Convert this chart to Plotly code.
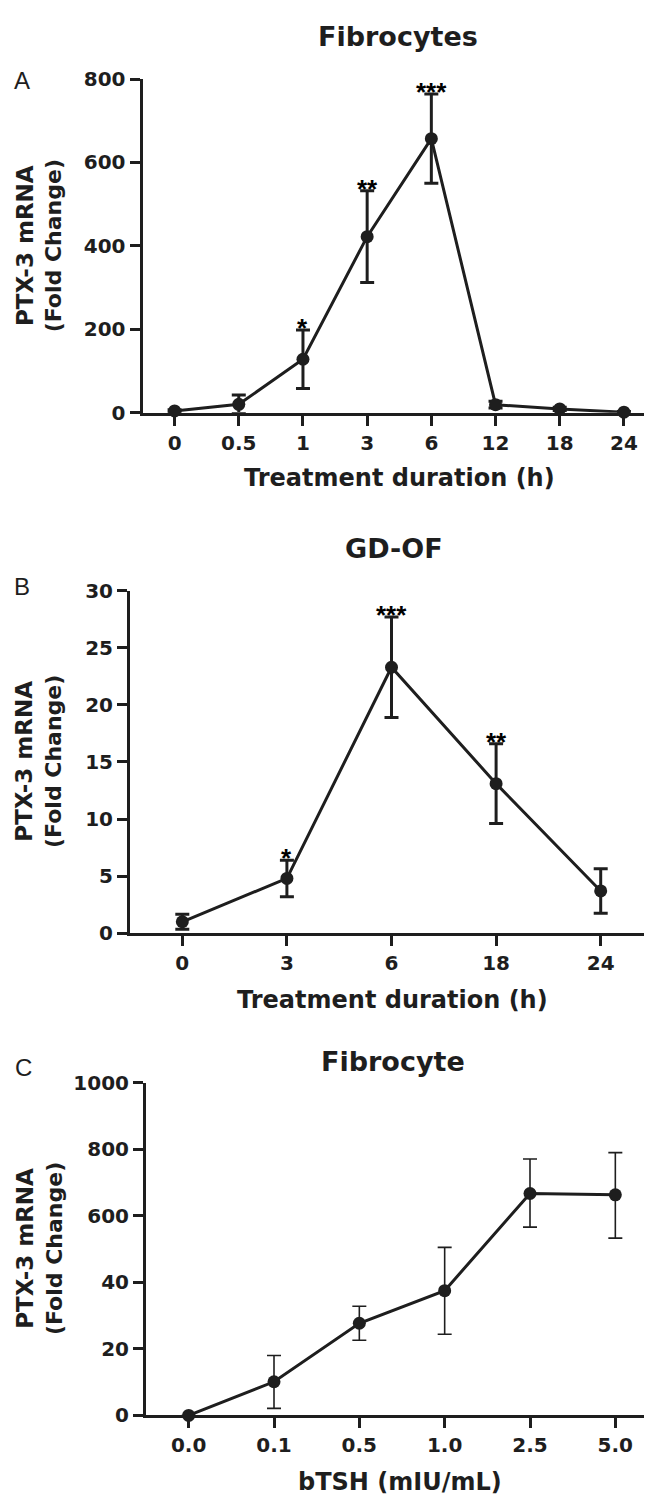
import numpy as np
import plotly.graph_objects as go

W, H = 652, 1504

# ---------------- data ----------------
# Panel A: Fibrocytes, time course
a_labels = ["0", "0.5", "1", "3", "6", "12", "18", "24"]
a_mean = [4, 20, 128, 422, 657, 19, 9, 1]
a_err = [3, 22, 70, 110, 107, 8, 4, 2]
a_stars = {2: "*", 3: "**", 4: "***"}

# Panel B: GD-OF, time course
b_labels = ["0", "3", "6", "18", "24"]
b_mean = [1.0, 4.8, 23.3, 13.1, 3.7]
b_err = [0.65, 1.6, 4.4, 3.5, 1.95]
b_stars = {1: "*", 2: "***", 3: "**"}

# Panel C: Fibrocyte, bTSH dose (discontinuous y axis)
c_labels = ["0.0", "0.1", "0.5", "1.0", "2.5", "5.0"]
c_mean = [0, 10.1, 27.7, 37.5, 667, 663]
c_upper = [0, 18, 32.8, 334, 771, 790]
c_lower = [0, 2.1, 22.6, 24.4, 505, 412]
c_ticks = [0, 20, 40, 600, 800, 1000]

# piecewise axis used by panel C: 0-40 stretched, 40-600 compressed
c_break_real = [0, 40, 600, 1000]
c_break_axis = [0, 400, 600, 1000]


def c_axis(v):
    return np.interp(np.asarray(v, dtype=float), c_break_real, c_break_axis)


INK = "#1e1e1e"
FONT = "DejaVu Sans"


def px_x(x):
    return x / W


def px_y(y):
    return 1 - y / H


fig = go.Figure()

# ------------- panel domains (pixel boxes) -------------
panels = {
    "A": dict(x0=134.5, x1=648, y0=60, y1=399),
    "B": dict(x0=122, x1=645, y0=580, y1=928),
    "C": dict(x0=138, x1=650, y0=1080, y1=1418),
}

axis_common = dict(
    showline=True, linecolor=INK, linewidth=3, showgrid=False, zeroline=False,
    ticks="outside", ticklen=10, tickwidth=3, tickcolor=INK,
    tickfont=dict(family=FONT, size=20, color=INK, weight="bold"),
)

layout_axes = {}
for i, (key, p) in enumerate(panels.items(), start=1):
    sfx = "" if i == 1 else str(i)
    layout_axes["xaxis" + sfx] = dict(
        axis_common, domain=[px_x(p["x0"]), px_x(p["x1"])],
        anchor="y" + sfx, fixedrange=True)
    layout_axes["yaxis" + sfx] = dict(
        axis_common, domain=[px_y(p["y1"]), px_y(p["y0"])],
        anchor="x" + sfx, fixedrange=True)

# Panel A axes
layout_axes["xaxis"].update(range=[-0.5, 7.5], tickvals=list(range(len(a_labels))),
                            ticktext=a_labels)
layout_axes["yaxis"].update(range=[0, 800], tickvals=[0, 200, 400, 600, 800])
# Panel B axes
layout_axes["xaxis2"].update(range=[-0.5, 4.5], tickvals=list(range(len(b_labels))),
                             ticktext=b_labels)
layout_axes["yaxis2"].update(range=[0, 30], tickvals=[0, 5, 10, 15, 20, 25, 30])
# Panel C axes
layout_axes["xaxis3"].update(range=[-0.5, 5.5], tickvals=list(range(len(c_labels))),
                             ticktext=c_labels)
layout_axes["yaxis3"].update(range=[0, 1000], tickvals=list(c_axis(c_ticks)),
                             ticktext=[str(t) for t in c_ticks])

# ------------- traces -------------
def add_series(xs, ys, eplus, eminus, xa, ya, ethick):
    fig.add_trace(go.Scatter(
        x=xs, y=ys, mode="lines+markers", xaxis=xa, yaxis=ya,
        line=dict(color=INK, width=3),
        marker=dict(color=INK, size=13),
        error_y=dict(type="data", symmetric=False, array=eplus, arrayminus=eminus,
                     color=INK, thickness=ethick, width=7),
        cliponaxis=False, showlegend=False, hoverinfo="skip"))


add_series(list(range(len(a_labels))), a_mean, a_err, a_err, "x", "y", 3)
add_series(list(range(len(b_labels))), b_mean, b_err, b_err, "x2", "y2", 3)
c_y = c_axis(c_mean)
add_series(list(range(len(c_labels))), list(c_y),
           list(c_axis(c_upper) - c_y), list(c_y - c_axis(c_lower)), "x3", "y3", 1.6)

annotations = []

# significance stars
star_font = dict(family="Liberation Sans", size=26, color="#000000", weight="bold")
for idx, s in a_stars.items():
    annotations.append(dict(x=idx, y=a_mean[idx] + a_err[idx], xref="x", yref="y",
                            text=s, showarrow=False, yanchor="bottom", yshift=-15,
                            font=star_font))
for idx, s in b_stars.items():
    annotations.append(dict(x=idx, y=b_mean[idx] + b_err[idx], xref="x2", yref="y2",
                            text=s, showarrow=False, yanchor="bottom", yshift=-15,
                            font=star_font))

# titles, axis titles and panel letters
bold = dict(family=FONT, color=INK, weight="bold")
ytitle = ("<span style='font-size:23px'>PTX-3 mRNA</span><br>"
          "<span style='font-size:22px'>(Fold Change)</span>")
texts = [
    ("Fibrocytes", 390, 17, 27, 0),
    ("GD-OF", 386, 537, 27, 0),
    ("Fibrocyte", 385, 1058, 27, 0),
    ("Treatment duration (h)", 391, 465, 24, 0),
    ("Treatment duration (h)", 384, 996, 24, 0),
    ("bTSH (mIU/mL)", 392, 1486, 24, 0),
    (ytitle, 31, 230, 22, -90),
    (ytitle, 31, 754, 22, -90),
    (ytitle, 31, 1249, 22, -90),
]
for t, x, y, size, ang in texts:
    annotations.append(dict(x=px_x(x), y=px_y(y), xref="paper", yref="paper", text=t,
                            showarrow=False, xanchor="center", yanchor="middle",
                            textangle=ang, font=dict(bold, size=size)))

for letter, x, y in [("A", 4, 61), ("B", 4, 576), ("C", 5, 1064)]:
    annotations.append(dict(x=px_x(x), y=px_y(y), xref="paper", yref="paper", text=letter,
                            showarrow=False, xanchor="left", yanchor="middle",
                            font=dict(family="Liberation Sans", size=24, color=INK)))

fig.update_layout(
    width=W, height=H, margin=dict(l=0, r=0, t=0, b=0),
    paper_bgcolor="white", plot_bgcolor="white",
    annotations=annotations, showlegend=False, **layout_axes)

fig.write_html("out.html", config={"displayModeBar": False})
